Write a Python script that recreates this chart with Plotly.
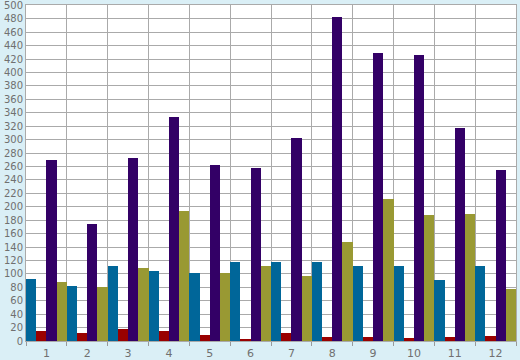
import plotly.graph_objects as go

categories = ["1", "2", "3", "4", "5", "6", "7", "8", "9", "10", "11", "12"]
blue_vals = [93, 82, 111, 105, 102, 117, 118, 117, 111, 112, 91, 112]
red_vals = [15, 12, 18, 15, 9, 2, 12, 6, 6, 5, 6, 8]
purple_vals = [269, 175, 272, 333, 262, 257, 303, 482, 429, 426, 317, 254]
olive_vals = [88, 80, 109, 193, 102, 111, 97, 148, 211, 187, 189, 78]
y_ticks = list(range(0, 501, 20))

series = [
    ("Series 1", blue_vals, "#006699"),
    ("Series 2", red_vals, "#990000"),
    ("Series 3", purple_vals, "#330066"),
    ("Series 4", olive_vals, "#999933"),
]

fig = go.Figure()
for name, vals, color in series:
    fig.add_trace(go.Bar(x=categories, y=vals, name=name,
                         marker=dict(color=color, line=dict(width=0))))

fig.update_layout(
    width=520, height=360,
    margin=dict(l=26, r=4, t=5, b=19, autoexpand=False),
    paper_bgcolor="#daeff6",
    plot_bgcolor="#ffffff",
    barmode="group", bargap=0, bargroupgap=0,
    showlegend=False,
    font=dict(family="DejaVu Sans", size=10, color="#707070"),
)
fig.update_xaxes(
    type="category", tickson="boundaries", automargin=False,
    showgrid=True, gridcolor="#aaaaaa", gridwidth=1,
    ticks="outside", ticklen=4, tickcolor="#999999",
    showline=True, linecolor="#aaaaaa", mirror=True,
    ticklabeloverflow="allow", ticklabelstandoff=2,
    tickfont=dict(size=11, color="#707070"),
)
fig.update_yaxes(
    range=[0, 500.5], tickmode="array", tickvals=y_ticks, automargin=False,
    showgrid=True, gridcolor="#aaaaaa", gridwidth=1,
    showline=True, linecolor="#aaaaaa", mirror=True,
    zeroline=False, ticks="", ticklabelstandoff=0,
    ticklabeloverflow="allow",
    tickfont=dict(size=10, color="#707070"),
)

fig.write_html(
    "out.html",
    config={"displayModeBar": False},
    post_script="document.body.style.margin='0px';document.body.style.background='#daeff6';document.body.style.overflow='hidden';",
)
